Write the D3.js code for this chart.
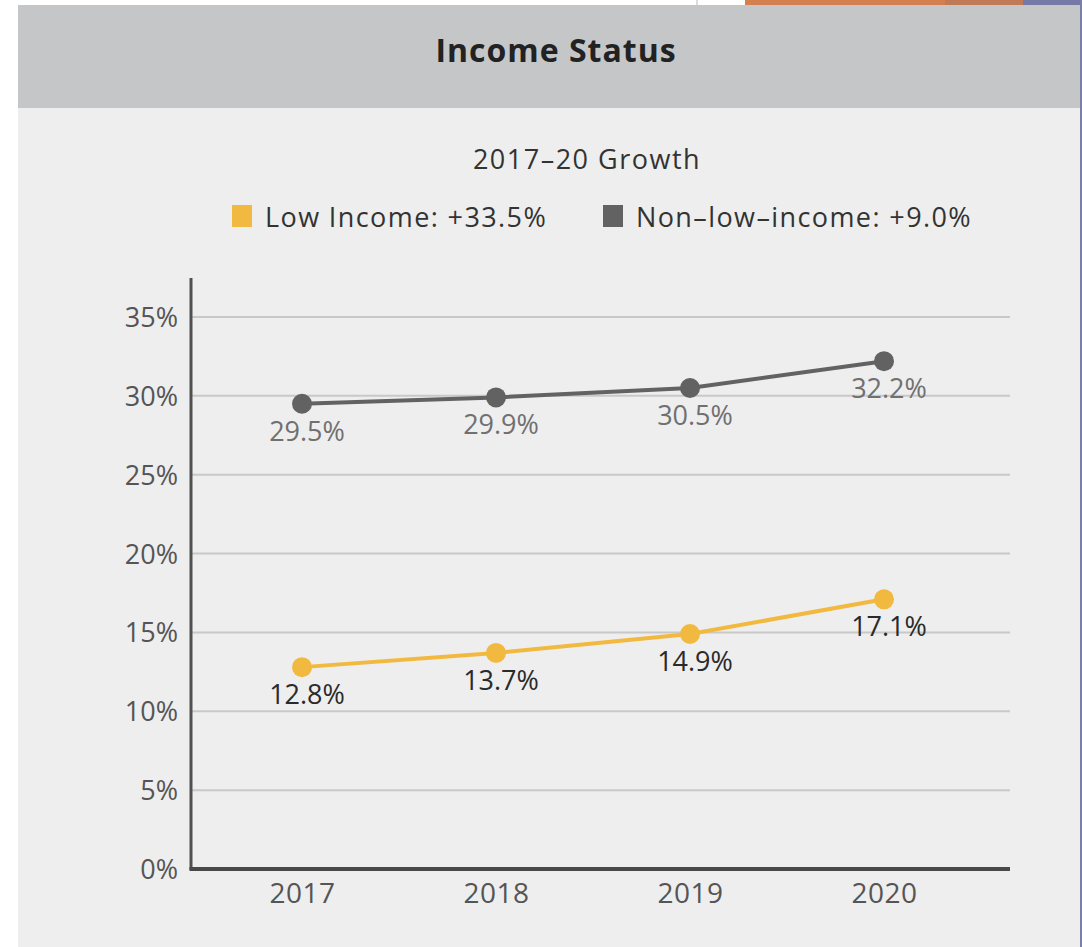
<!DOCTYPE html>
<html>
<head>
<meta charset="utf-8">
<script src="https://cdn.jsdelivr.net/npm/d3@7"></script>
<style>
  body { margin: 0; background: #fff; }
  text { font-family: "Open Sans", "Noto Sans", sans-serif; }
</style>
</head>
<body>
<script>
// data
var years = ["2017", "2018", "2019", "2020"]
var lowIncome = [12.8, 13.7, 14.9, 17.1]
var nonLowIncome = [29.5, 29.9, 30.5, 32.2]
var yTicks = [0, 5, 10, 15, 20, 25, 30, 35]
var legendLabels = ["Low Income: +33.5%", "Non\u2013low\u2013income: +9.0%"]

var width = 1082
var height = 947

var svg = d3.select("body")
  .append("svg")
    .attr("width", width)
    .attr("height", height)

// top strip bits and panel background
svg.append("rect").attr("x", 745).attr("y", 0).attr("width", 200).attr("height", 5).style("fill", "#d4804e")
svg.append("rect").attr("x", 945).attr("y", 0).attr("width", 78).attr("height", 5).style("fill", "#c07a55")
svg.append("rect").attr("x", 1023).attr("y", 0).attr("width", 59).attr("height", 5).style("fill", "#7579a6")
svg.append("line").attr("x1", 697).attr("x2", 697).attr("y1", 0).attr("y2", 5).style("stroke", "#bbb")
svg.append("rect").attr("x", 18).attr("y", 5).attr("width", 1062).attr("height", 103).style("fill", "#c5c6c8")
svg.append("rect").attr("x", 18).attr("y", 108).attr("width", 1062).attr("height", 839).style("fill", "#eeeeee")
svg.append("rect").attr("x", 1080).attr("y", 0).attr("width", 2).attr("height", 947).style("fill", "#7a7fa8")

svg.append("text")
  .attr("x", 556).attr("y", 62)
  .attr("text-anchor", "middle")
  .style("font-size", "32px").style("font-weight", "bold").style("fill", "#222")
  .style("letter-spacing", "1px")
  .text("Income Status")

svg.append("text")
  .attr("x", 587).attr("y", 169)
  .attr("text-anchor", "middle")
  .style("font-size", "27px").style("fill", "#333")
  .style("letter-spacing", "1.5px")
  .text("2017\u201320 Growth")

// legend
var legendColors = ["#f2b940", "#626262"]
var legendX = [232, 603]
legendLabels.forEach(function(l, i) {
  svg.append("rect")
    .attr("x", legendX[i]).attr("y", 205).attr("width", 20).attr("height", 22)
    .style("fill", legendColors[i])
  svg.append("text")
    .attr("x", legendX[i] + 33).attr("y", 227)
    .style("font-size", "27px").style("fill", "#333")
    .style("letter-spacing", "1.4px")
    .text(l)
})

// scales
var x = d3.scalePoint().domain(years).range([302, 884])
var y = d3.scaleLinear().domain([0, 35]).range([869, 317])

// gridlines
svg.append("g")
  .selectAll("line")
  .data(yTicks.filter(function(d){ return d > 0 }))
  .enter()
  .append("line")
    .attr("x1", 191).attr("x2", 1010)
    .attr("y1", function(d){ return y(d) }).attr("y2", function(d){ return y(d) })
    .style("stroke", "#c8c8c8").style("stroke-width", 2)

// y axis
var yAxis = svg.append("g")
  .attr("transform", "translate(191,0)")
  .call(d3.axisLeft(y).tickValues(yTicks).tickSize(0).tickPadding(13).tickFormat(function(d){ return d + "%" }))
yAxis.select(".domain").remove()
yAxis.selectAll("text").style("font-size", "27px").style("fill", "#555").style("font-family", "Open Sans").attr("dy", "0.35em")
svg.append("line").attr("x1", 191).attr("x2", 191).attr("y1", 278).attr("y2", 870)
  .style("stroke", "#505050").style("stroke-width", 3)

// x axis
var xAxis = svg.append("g")
  .attr("transform", "translate(0,869)")
  .call(d3.axisBottom(x).tickSize(0).tickPadding(14))
xAxis.select(".domain").remove()
xAxis.selectAll("text").style("font-size", "28px").style("fill", "#555").style("font-family", "Open Sans")
  .style("letter-spacing", "0.5px")
svg.append("line").attr("x1", 189.5).attr("x2", 1010).attr("y1", 869).attr("y2", 869)
  .style("stroke", "#484848").style("stroke-width", 4)

// series
var series = [
  { values: nonLowIncome, color: "#626262", label: "#707070" },
  { values: lowIncome, color: "#f2b940", label: "#2a2a2a" }
]
var line = d3.line()
  .x(function(d, i){ return x(years[i]) })
  .y(function(d){ return y(d) })

series.forEach(function(s) {
  svg.append("path")
    .datum(s.values)
    .attr("d", line)
    .style("fill", "none").style("stroke", s.color).style("stroke-width", 4)
  svg.append("g").selectAll("circle")
    .data(s.values)
    .enter()
    .append("circle")
      .attr("cx", function(d, i){ return x(years[i]) })
      .attr("cy", function(d){ return y(d) })
      .attr("r", 10)
      .style("fill", s.color)
  svg.append("g").selectAll("text")
    .data(s.values)
    .enter()
    .append("text")
      .attr("x", function(d, i){ return x(years[i]) + 5 })
      .attr("y", function(d){ return y(d) + 37 })
      .attr("text-anchor", "middle")
      .style("font-size", "27px").style("fill", s.label)
      .text(function(d){ return d.toFixed(1) + "%" })
})
</script>
</body>
</html>
